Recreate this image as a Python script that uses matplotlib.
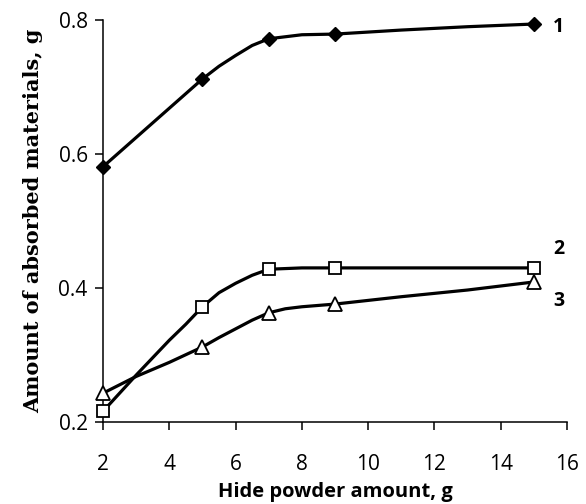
import matplotlib
matplotlib.use("Agg")
import matplotlib.pyplot as plt

# measured points (markers)
x_pts = [2, 5, 7, 9, 15]
s1_pts = [0.581, 0.712, 0.772, 0.779, 0.794]
s2_pts = [0.216, 0.372, 0.428, 0.430, 0.430]
s3_pts = [0.243, 0.312, 0.363, 0.376, 0.409]

# smoothed curves as drawn in the figure
s1_curve_x = [2, 5, 5.5, 6, 6.5, 7, 8, 9, 11, 13, 15]
s1_curve_y = [0.581, 0.712, 0.731, 0.747, 0.762, 0.772, 0.778, 0.779, 0.785, 0.790, 0.794]
s2_curve_x = [2, 3, 4, 4.5, 5, 5.5, 6, 6.5, 7, 8, 9, 15]
s2_curve_y = [0.216, 0.270, 0.322, 0.346, 0.372, 0.393, 0.407, 0.419, 0.428, 0.430, 0.430, 0.430]
s3_curve_x = [2, 3, 4, 5, 5.5, 6, 6.5, 7, 7.5, 8, 9, 11, 13, 14, 15]
s3_curve_y = [0.243, 0.268, 0.289, 0.312, 0.326, 0.339, 0.352, 0.363, 0.369, 0.372,
              0.376, 0.387, 0.397, 0.403, 0.409]

curve_labels = ["1", "2", "3"]
label_y = [0.79, 0.458, 0.381]

x_ticks = [2, 4, 6, 8, 10, 12, 14, 16]
y_ticks = [0.2, 0.4, 0.6, 0.8]

fig = plt.figure(figsize=(5.86, 5.04), dpi=100)
ax = fig.add_axes([0.1758, 0.1627, 0.7918, 0.7976])

lw = 2.3
for cx, cy in ((s1_curve_x, s1_curve_y), (s2_curve_x, s2_curve_y), (s3_curve_x, s3_curve_y)):
    ax.plot(cx, cy, color="black", lw=lw, solid_joinstyle="round",
            clip_on=False, zorder=3)

ax.plot(x_pts, s1_pts, ls="none", marker="D", ms=7.5, mfc="black", mec="black",
        clip_on=False, zorder=4)
ax.plot(x_pts, s2_pts, ls="none", marker="s", ms=8.5, mfc="white", mec="black",
        mew=1.3, clip_on=False, zorder=4)
ax.plot(x_pts, s3_pts, ls="none", marker="^", ms=9.5, mfc="white", mec="black",
        mew=1.3, clip_on=False, zorder=4)

for lab, ly in zip(curve_labels, label_y):
    ax.text(15.75, ly, lab, fontsize=14, fontweight="bold", family="Open Sans",
            ha="center", va="center", clip_on=False)

ax.set_xlim(2, 16)
ax.set_ylim(0.2, 0.8)
ax.set_xticks(x_ticks)
ax.set_yticks(y_ticks)
ax.set_yticklabels([f"{v:.1f}" for v in y_ticks])

for side in ("top", "right"):
    ax.spines[side].set_visible(False)
for side in ("left", "bottom"):
    ax.spines[side].set_linewidth(1.1)

ax.tick_params(axis="both", direction="out", length=6, width=1.1, labelsize=15)
ax.tick_params(axis="x", pad=17)
ax.tick_params(axis="y", pad=5)
for t in ax.get_xticklabels() + ax.get_yticklabels():
    t.set_family("Open Sans")

ax.set_xlabel("Hide powder amount, g", fontsize=14.5, fontweight="bold",
              family="Open Sans", labelpad=5)
ylab = ax.set_ylabel("Amount of absorbed materials, g", fontsize=13.3,
                     fontweight="bold", family="DejaVu Serif", labelpad=11)

# stretch the y label to the length it has in the original (~385 px)
fig.canvas.draw()
h = ylab.get_window_extent().height
ylab.set_fontsize(13.3 * 385 / h)

fig.savefig("out.png", dpi=100)
